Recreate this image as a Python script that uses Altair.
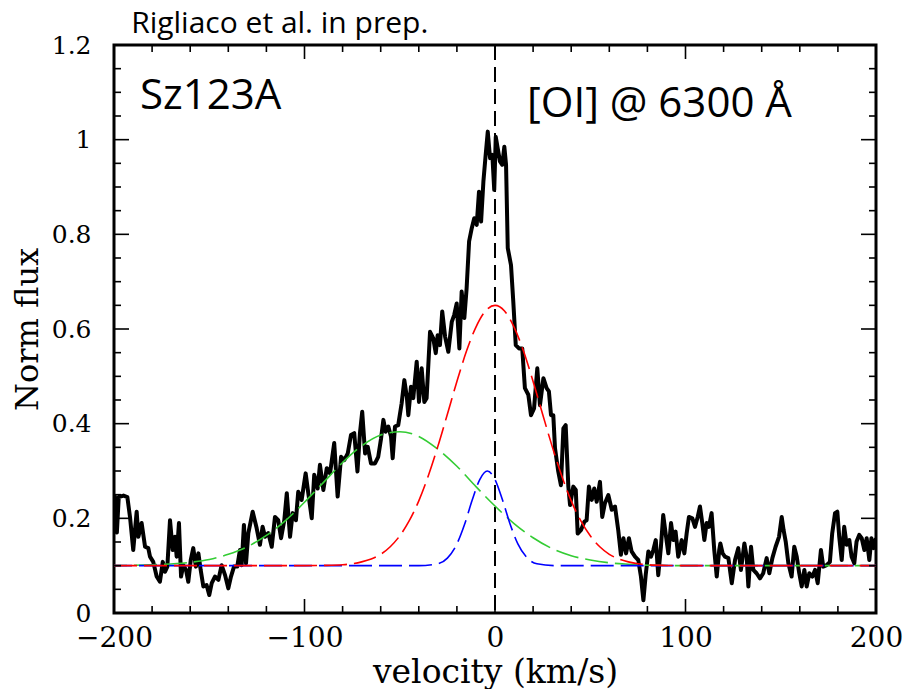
import altair as alt
import pandas as pd

# ---------------- data ----------------
vel = [-200, -199.5, -198.5, -197.5, -195, -193, -191.6, -189.9, -188.1, -187.2, -185.5, -183.7, -182, -181.1,
       -179.4, -177.6, -175.9, -174.4, -173.2, -172, -170.6, -169.2, -168, -167.1, -165.9, -164.8, -163.6,
       -162.2, -161, -159.7, -158.4, -157, -155.7, -154.5, -153.1, -151.4, -150, -148.7, -147, -145.2, -143.5,
       -141.7, -140, -138.6, -137, -135.3, -133.9, -133, -131.8, -130.7, -129.5, -127.2, -125.1, -123.4, -122,
       -120.7, -119, -117.2, -115.5, -113.8, -112.3, -110.6, -109.3, -107.6, -106.2, -104.5, -103.3, -101.5,
       -99.4, -98, -96.2, -94.9, -93.1, -91.9, -90.1, -88.3, -86.6, -84.4, -82.6, -80.8, -79.1, -77.3, -75.6,
       -73.9, -72.2, -70.9, -69.7, -68.2, -66.8, -65.1, -63, -61.3, -59.8, -58.6, -57.4, -56, -54.6, -53.7,
       -52.5, -50.8, -49, -47.6, -46.3, -45.5, -44.1, -42.9, -41.1, -39.9, -38.5, -37.1, -35.9, -34.1, -32.4,
       -31.1, -30.1, -28.9, -27.7, -26.2, -24.5, -22.7, -21.4, -20.1, -18.7, -17.5, -16.1, -14.9, -13.6, -12.2,
       -10.9, -9.6, -8.4, -7.3, -6.1, -4.9, -3.8, -2.6, -1.4, -0.4, 0.4, 1.4, 2.6, 3.8, 4.9, 5.8, 6.7, 8.4, 9.6,
       10.9, 12.6, 14.3, 15.7, 17.5, 18.9, 20.5, 22.2, 23.6, 25.4, 27.1, 28.3, 29.4, 30.6, 31.5, 33.2, 34.6,
       35.9, 37.1, 38.5, 39.4, 41.1, 42.4, 43.4, 45.1, 46.9, 48.1, 49.3, 50.8, 52.1, 53.4, 55.1, 56.3, 57.7,
       59.5, 61.3, 63, 64.7, 66.1, 67.4, 68.8, 70.3, 71.7, 73.5, 75.2, 76.6, 77.9, 79.1, 80.5, 81.9, 83.1,
       84.4, 85.7, 87.1, 88.3, 89.8, 91, 92.4, 93.6, 94.8, 96.2, 98, 99.4, 100.6, 101.8, 103.6, 105, 106.4,
       107.6, 108.8, 109.9, 111.1, 112.3, 113.7, 115.1, 116.4, 117.7, 118.3, 119.5, 120.7, 122.5, 124.3, 126,
       127.7, 129.1, 130.9, 132.1, 133, 134.4, 135.6, 137.3, 139.1, 140.8, 142.6, 144, 145.6, 147.3, 149.1,
       150.5, 151.5, 152.6, 154, 155.7, 157.1, 158.4, 159.7, 161, 162.4, 163.6, 165, 166.6, 168, 169.4, 171.1,
       172.3, 174.1, 175.8, 177, 178.5, 179.7, 180.7, 182, 183.3, 184.6, 186, 187.2, 188.6, 189.8, 191.2, 192.5,
       193.9, 195.1, 196.5, 197.6, 198.8, 200]
flux = [0.23, 0.246, 0.17, 0.245, 0.248, 0.245, 0.203, 0.133, 0.214, 0.161, 0.19, 0.14, 0.137, 0.119,
        0.108, 0.077, 0.066, 0.108, 0.087, 0.098, 0.196, 0.133, 0.161, 0.119, 0.19, 0.077, 0.101,
        0.091, 0.066, 0.112, 0.137, 0.098, 0.126, 0.091, 0.056, 0.059, 0.038, 0.063, 0.077, 0.07, 0.101,
        0.08, 0.052, 0.077, 0.098, 0.098, 0.133, 0.101, 0.186, 0.105, 0.168, 0.214, 0.179, 0.144, 0.182,
        0.161, 0.169, 0.14, 0.203, 0.196, 0.158, 0.196, 0.253, 0.161, 0.211, 0.196, 0.256, 0.239,
        0.295, 0.253, 0.2, 0.292, 0.263, 0.313, 0.26, 0.306, 0.295, 0.359, 0.246, 0.33, 0.323, 0.337, 0.376,
        0.38, 0.299, 0.38, 0.425, 0.337, 0.351, 0.316, 0.316, 0.33, 0.369, 0.408, 0.383, 0.394, 0.373, 0.327,
        0.394, 0.397, 0.443, 0.492, 0.457, 0.418, 0.478, 0.454, 0.531, 0.446, 0.517, 0.446, 0.454, 0.594, 0.58,
        0.549, 0.587, 0.566, 0.637, 0.584, 0.552, 0.615, 0.63, 0.654, 0.559, 0.679, 0.623, 0.686, 0.785, 0.813,
        0.834, 0.82, 0.89, 0.827, 0.911, 0.968, 1.017, 0.961, 0.968, 0.894, 1.006, 0.982, 0.954, 0.947, 0.985, 0.947, 0.771, 0.735, 0.658,
        0.566, 0.559, 0.559, 0.475, 0.461, 0.418, 0.432, 0.517, 0.439, 0.496, 0.475, 0.468, 0.418, 0.418, 0.348, 0.299, 0.27,
        0.39, 0.397, 0.267, 0.228, 0.267, 0.26, 0.168, 0.175, 0.193, 0.196, 0.267, 0.239, 0.263, 0.235, 0.277, 0.203, 0.232,
        0.249, 0.218, 0.225, 0.175, 0.123, 0.158, 0.126, 0.158, 0.13, 0.119, 0.112, 0.077, 0.027, 0.08, 0.13, 0.119, 0.133,
        0.154, 0.08, 0.14, 0.207, 0.161, 0.126, 0.19, 0.154, 0.172, 0.119, 0.154, 0.126, 0.168, 0.203, 0.2, 0.182, 0.203,
        0.225, 0.19, 0.154, 0.19, 0.182, 0.211, 0.133, 0.077, 0.133, 0.147, 0.126, 0.119, 0.116, 0.063, 0.112,
        0.137, 0.091, 0.147, 0.119, 0.056, 0.14, 0.091, 0.084, 0.073, 0.084, 0.116, 0.084, 0.116, 0.14, 0.161,
        0.203, 0.175, 0.151, 0.105, 0.077, 0.14, 0.119, 0.084, 0.056, 0.091, 0.056, 0.084, 0.077, 0.091, 0.063, 0.133,
        0.098, 0.101, 0.108, 0.168, 0.211, 0.214, 0.161, 0.112, 0.182, 0.144, 0.154, 0.119, 0.105, 0.151, 0.165, 0.158,
        0.133, 0.158, 0.112, 0.158, 0.137, 0.158]

# Gaussian components
red_v = [-200, -100, -90, -80, -75, -70, -65, -60, -55, -50, -45, -40, -35, -30, -25, -20, -15, -10, -5, 0,
         5, 10, 15, 20, 25, 30, 35, 40, 45, 50, 55, 60, 65, 70, 75, 80, 90, 100, 200]
red_f = [0.1, 0.1, 0.1005, 0.102, 0.104, 0.108, 0.114, 0.124, 0.140, 0.163, 0.195, 0.237, 0.290, 0.352, 0.420,
         0.489, 0.553, 0.604, 0.638, 0.65, 0.638, 0.604, 0.553, 0.489, 0.420, 0.352, 0.290, 0.237, 0.195, 0.163,
         0.140, 0.124, 0.114, 0.108, 0.104, 0.102, 0.1005, 0.1, 0.1]
blue_v = [-200, -40, -30, -25, -20, -16, -12, -8, -4, 0, 4, 8, 12, 17, 22, 32, 200]
blue_f = [0.1, 0.1, 0.104, 0.116, 0.146, 0.187, 0.238, 0.282, 0.3, 0.282, 0.238, 0.187, 0.146, 0.116, 0.104, 0.1, 0.1]
green_v = [-200, -180, -160, -150, -140, -130, -120, -110, -100, -90, -80, -70, -60, -50, -40, -30, -20, -10,
           0, 10, 20, 30, 40, 50, 60, 70, 80, 100, 200]
green_f = [0.1, 0.102, 0.107, 0.113, 0.124, 0.140, 0.164, 0.195, 0.234, 0.276, 0.318, 0.353, 0.376, 0.383,
           0.373, 0.346, 0.310, 0.267, 0.226, 0.189, 0.159, 0.136, 0.121, 0.112, 0.106, 0.103, 0.101, 0.1, 0.1]

x_major = [-200, -100, 0, 100, 200]
x_minor = [-180, -160, -140, -120, -80, -60, -40, -20, 20, 40, 60, 80, 120, 140, 160, 180]
y_major = [0, 0.2, 0.4, 0.6, 0.8, 1.0, 1.2]
y_minor = [0.05, 0.1, 0.15, 0.25, 0.3, 0.35, 0.45, 0.5, 0.55, 0.65, 0.7, 0.75, 0.85, 0.9, 0.95, 1.05, 1.1, 1.15]

notes = ["Rigliaco et al. in prep.", "Sz123A", "[OI] @ 6300 Å"]

# ---------------- layout ----------------
W, H = 762, 568
note_pos = {"v": [-191, -186.4, 16.8], "f": [1.2255, 1.0648, 1.048], "size": [30, 42, 42]}

xs = alt.Scale(domain=[-200, 200], nice=False, zero=False)
ys = alt.Scale(domain=[0, 1.2], nice=False, zero=False)

spec = pd.DataFrame({"v": vel, "f": flux})
red = pd.DataFrame({"v": red_v, "f": red_f})
blue = pd.DataFrame({"v": blue_v, "f": blue_f})
green = pd.DataFrame({"v": green_v, "f": green_f})

xaxis = alt.Axis(values=x_major, format="d", ticks=False, tickSize=0, domain=False, grid=False,
                 labelFont="DejaVu Serif", labelFontSize=28, labelColor="black", labelPadding=11,
                 labelFlush=False, labelOverlap=False,
                 title="velocity (km/s)", titleFont="DejaVu Serif", titleFontSize=33,
                 titleFontWeight="normal", titleColor="black", titleBaseline="alphabetic", titleY=69)
yaxis = alt.Axis(values=y_major, format="~g", ticks=False, tickSize=0, domain=False, grid=False,
                 labelFont="DejaVu Serif", labelFontSize=25, labelColor="black", labelPadding=23,
                 labelOverlap=False, labelFlush=False,
                 title="Norm flux", titleFont="DejaVu Serif", titleFontSize=32, titleFontWeight="normal",
                 titleColor="black", titleAngle=270, titleBaseline="alphabetic", titleX=-77)

base_x = alt.X("v:Q", scale=xs, axis=xaxis)
base_y = alt.Y("f:Q", scale=ys, axis=yaxis)

spectrum = alt.Chart(spec).mark_line(color="black", strokeWidth=4, clip=True, strokeJoin="round").encode(
    x=base_x, y=base_y, order="v:Q")

vline = alt.Chart(pd.DataFrame({"v": [0]})).mark_rule(color="black", strokeWidth=2, strokeDash=[15, 7]).encode(
    x=alt.X("v:Q", scale=xs))


def comp(df, color, offset):
    return alt.Chart(df).mark_line(color=color, strokeWidth=1.6, strokeDash=[23, 7], strokeDashOffset=offset,
                                   interpolate="monotone", clip=True).encode(
        x=alt.X("v:Q", scale=xs), y=alt.Y("f:Q", scale=ys), order="v:Q")


g_line = comp(green, "#33cc33", 10)
b_line = comp(blue, "#0000ff", 5)
r_line = comp(red, "#ff0000", 0)

# tick marks (inside, all four sides)
xM = pd.DataFrame({"v": x_major})
xm = pd.DataFrame({"v": x_minor})
yM = pd.DataFrame({"f": y_major})
ym = pd.DataFrame({"f": y_minor})
tk = dict(color="black", strokeWidth=1.6)
ticks = [
    alt.Chart(xM).mark_rule(**tk).encode(x=alt.X("v:Q", scale=xs), y=alt.value(H), y2=alt.value(H - 14)),
    alt.Chart(xM).mark_rule(**tk).encode(x=alt.X("v:Q", scale=xs), y=alt.value(0), y2=alt.value(14)),
    alt.Chart(xm).mark_rule(**tk).encode(x=alt.X("v:Q", scale=xs), y=alt.value(H), y2=alt.value(H - 7)),
    alt.Chart(xm).mark_rule(**tk).encode(x=alt.X("v:Q", scale=xs), y=alt.value(0), y2=alt.value(7)),
    alt.Chart(yM).mark_rule(**tk).encode(y=alt.Y("f:Q", scale=ys), x=alt.value(0), x2=alt.value(15)),
    alt.Chart(yM).mark_rule(**tk).encode(y=alt.Y("f:Q", scale=ys), x=alt.value(W), x2=alt.value(W - 15)),
    alt.Chart(ym).mark_rule(**tk).encode(y=alt.Y("f:Q", scale=ys), x=alt.value(0), x2=alt.value(7)),
    alt.Chart(ym).mark_rule(**tk).encode(y=alt.Y("f:Q", scale=ys), x=alt.value(W), x2=alt.value(W - 7)),
]

notes_df = pd.DataFrame({"t": notes, "v": note_pos["v"], "f": note_pos["f"], "s": note_pos["size"]})
texts = alt.Chart(notes_df).mark_text(font="Open Sans", align="left", baseline="alphabetic",
                                      color="black").encode(
    x=alt.X("v:Q", scale=xs), y=alt.Y("f:Q", scale=ys), text="t:N",
    size=alt.Size("s:Q", scale=None, legend=None))

chart = alt.layer(spectrum, vline, g_line, b_line, r_line, *ticks, texts).properties(
    width=W, height=H,
    autosize=alt.AutoSizeParams(type="none"),
    padding={"left": 114, "top": 45, "right": 27, "bottom": 76},
    background="white",
).configure_view(stroke="black", strokeWidth=3)

chart.save("out.html", embed_options={"renderer": "svg", "actions": False})
